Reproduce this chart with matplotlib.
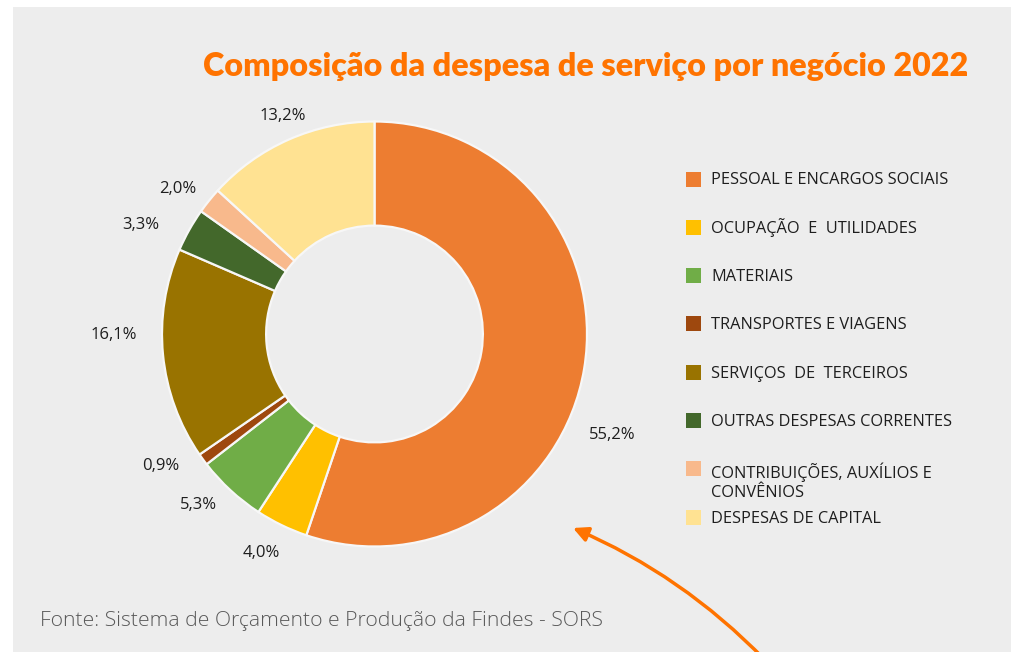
import matplotlib
matplotlib.use("Agg")
import matplotlib.pyplot as plt
from matplotlib.patches import Rectangle

categories = [
    "PESSOAL E ENCARGOS SOCIAIS",
    "OCUPAÇÃO  E  UTILIDADES",
    "MATERIAIS",
    "TRANSPORTES E VIAGENS",
    "SERVIÇOS  DE  TERCEIROS",
    "OUTRAS DESPESAS CORRENTES",
    "CONTRIBUIÇÕES, AUXÍLIOS E\nCONVÊNIOS",
    "DESPESAS DE CAPITAL",
]
values = [55.2, 4.0, 5.3, 0.9, 16.1, 3.3, 2.0, 13.2]
colors = ["#ED7D31", "#FFC000", "#70AD47", "#9E480E", "#997300", "#43682B", "#F8B98C", "#FFE292"]
title = "Composição da despesa de serviço por negócio 2022"
source = "Fonte: Sistema de Orçamento e Produção da Findes - SORS"

# layout: pixel nudges of the data labels (Excel "best fit" placement)
label_nudges = [(-10, 60), (-4, -7), (-6, -13), (-11, -16), (-11, -23), (-15, 14), (-2, 12), (9, 11)]

W, H = 1011, 652
fig = plt.figure(figsize=(W / 100, H / 100), dpi=100, facecolor="white")
fig.patches.append(Rectangle((13 / W, 0), 1 - 13 / W, (H - 7) / H, transform=fig.transFigure,
                             facecolor="#EDEDED", edgecolor="none", zorder=-5))

# donut: centre (374.5, 334) px, radius 212.5 px
cx, cy, R, L = 374.5, 334.0, 212.5, 1.3
side = 2 * L * R
ax = fig.add_axes([(cx - side / 2) / W, (H - cy - side / 2) / H, side / W, side / H])
ax.set_facecolor("none")
ax.set_zorder(1)
wedges, texts, autotexts = ax.pie(
    values, colors=colors, startangle=90, counterclock=False,
    wedgeprops=dict(width=0.49, edgecolor="#F7F7F7", linewidth=1.6),
    autopct=lambda p: f"{p:.1f}".replace(".", ",") + "%", pctdistance=1.18,
    textprops=dict(fontsize=12, color="#1E1E1E", family="Open Sans"),
)
for txt, (dx, dy) in zip(autotexts, label_nudges):
    x, y = txt.get_position()
    txt.set_position((x + dx / R, y - dy / R))
ax.set_xlim(-L, L)
ax.set_ylim(-L, L)
ax.axis("off")

# title
t = fig.text(586 / W, (H - 76) / H, title, ha="center", va="baseline", color="#FF7300",
             fontsize=22, fontweight="heavy", family="Lato", zorder=3)
fig.canvas.draw()
bb = t.get_window_extent()
t.set_fontsize(22 * 762 / bb.width)

# legend
for i, (lab, col) in enumerate(zip(categories, colors)):
    yc = 179 + i * 48.3
    nl = lab.count("\n")
    fig.patches.append(Rectangle((686 / W, (H - yc - 7.5) / H), 15 / W, 15 / H,
                                 transform=fig.transFigure, facecolor=col, edgecolor="none", zorder=2))
    fig.text(711 / W, (H - yc - 5.5 - 23 * nl) / H, lab, ha="left", va="baseline", fontsize=11.8,
             color="#1E1E1E", family="Open Sans", linespacing=1.3, zorder=3)

fig.text(40 / W, (H - 626) / H, source, ha="left", va="baseline", fontsize=15.2,
         color="#595959", family="Open Sans", fontweight="light", zorder=3)

# arrow
ax.annotate("", xy=(573, H - 528), xycoords="figure pixels",
            xytext=(765, H - 660), textcoords="figure pixels",
            arrowprops=dict(arrowstyle="-|>", color="#FF7300", lw=2.5, mutation_scale=22,
                            connectionstyle="arc3,rad=0.1", shrinkA=0, shrinkB=0),
            annotation_clip=False)

fig.savefig("out.png", dpi=100, facecolor="white")
